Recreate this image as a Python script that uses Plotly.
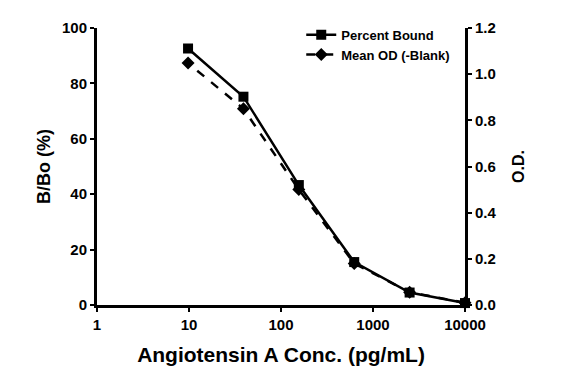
import plotly.graph_objects as go

conc = [10000, 2500, 625, 156.25, 39.0625, 9.765625]
percent_bound = [0.7, 4.5, 15.5, 43.3, 75.2, 92.6]
mean_od = [0.01, 0.055, 0.18, 0.50, 0.85, 1.048]

x_ticks = [1, 10, 100, 1000, 10000]
y_ticks = [0, 20, 40, 60, 80, 100]
y2_ticks = [0.0, 0.2, 0.4, 0.6, 0.8, 1.0, 1.2]

FONT = "Liberation Sans"

fig = go.Figure()
fig.add_trace(go.Scatter(
    x=conc, y=percent_bound, name="<b>Percent Bound</b>", mode="lines+markers",
    line=dict(color="black", width=2.5),
    marker=dict(symbol="square", size=10, color="black"),
    cliponaxis=False,
))
fig.add_trace(go.Scatter(
    x=conc, y=mean_od, name="<b>Mean OD (-Blank)</b>", mode="lines+markers",
    line=dict(color="black", width=2.5, dash="dash"),
    marker=dict(symbol="diamond", size=10, color="black"),
    yaxis="y2", cliponaxis=False,
))

axis_common = dict(
    showline=True, linecolor="black", linewidth=3, ticks="outside",
    ticklen=4, tickwidth=2, tickcolor="black", showgrid=False, zeroline=False,
    automargin=False,
    tickfont=dict(family=FONT, size=15, color="black", weight="bold"),
)

# page body has an 8px default margin, so the figure is sized to fit inside it
fig.update_layout(
    width=557, height=369,
    margin=dict(l=89, r=100, t=12, b=72),
    paper_bgcolor="white", plot_bgcolor="white",
    font=dict(family=FONT, color="black"),
    showlegend=True,
    legend=dict(
        x=0.555, y=1.03, xanchor="left", yanchor="top",
        bgcolor="rgba(0,0,0,0)", font=dict(family=FONT, size=13, color="black"),
        tracegroupgap=0,
    ),
    xaxis=dict(
        type="log", range=[0, 4],
        tickvals=x_ticks, ticktext=[str(v) for v in x_ticks],
        title=dict(text="<b>Angiotensin A Conc. (pg/mL)</b>",
                   font=dict(family=FONT, size=21, color="black"), standoff=16),
        **axis_common,
    ),
    yaxis=dict(
        range=[0, 100], tickvals=y_ticks,
        title=dict(text="<b>B/Bo (%)</b>",
                   font=dict(family=FONT, size=18, color="black"), standoff=7),
        **axis_common,
    ),
    yaxis2=dict(
        range=[0, 1.2], tickvals=y2_ticks, tickformat=".1f",
        overlaying="y", side="right",
        title=dict(text="<b>O.D.</b>",
                   font=dict(family=FONT, size=16, color="black"), standoff=18),
        **axis_common,
    ),
)

fig.write_html("out.html")
